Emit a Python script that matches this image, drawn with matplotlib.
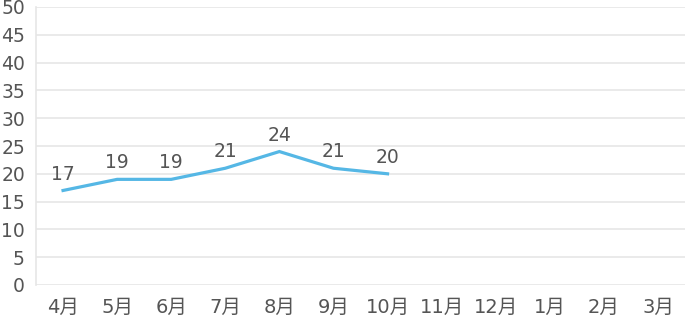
import matplotlib
matplotlib.use('Agg')
import matplotlib.pyplot as plt

plt.rcParams['font.family'] = ['DejaVu Sans', 'Noto Sans CJK JP']

# データ
months = ['4月', '5月', '6月', '7月', '8月', '9月', '10月', '11月', '12月', '1月', '2月', '3月']
values = [17, 19, 19, 21, 24, 21, 20]

text_color = '#555555'
grid_color = '#e6e6e6'
line_color = '#55b7e5'

fig = plt.figure(figsize=(6.85, 3.23), dpi=100)
ax = fig.add_axes([36 / 685, 38 / 323, 649 / 685, 278 / 323])

x = list(range(len(values)))
ax.plot(x, values, color=line_color, linewidth=2.3, solid_joinstyle='miter')

for xi, v in zip(x, values):
    ax.annotate(str(v), (xi, v), xytext=(0, 5), textcoords='offset points',
                ha='center', va='bottom', fontsize=13.5, color=text_color)

ax.set_xlim(-0.5, len(months) - 0.5)
ax.set_ylim(0, 50)
ax.set_xticks(range(len(months)))
ax.set_xticklabels(months)
ax.set_yticks(range(0, 51, 5))

ax.grid(axis='y', color=grid_color, linewidth=1.2)
ax.set_axisbelow(True)
for side in ['top', 'right', 'bottom']:
    ax.spines[side].set_visible(False)
ax.spines['left'].set_color(grid_color)
ax.spines['left'].set_linewidth(1.2)

ax.tick_params(axis='both', length=0, colors=text_color, labelsize=13.5)
ax.tick_params(axis='x', pad=9, labelsize=14)
ax.tick_params(axis='y', pad=8)

fig.savefig('out.png', dpi=100)
